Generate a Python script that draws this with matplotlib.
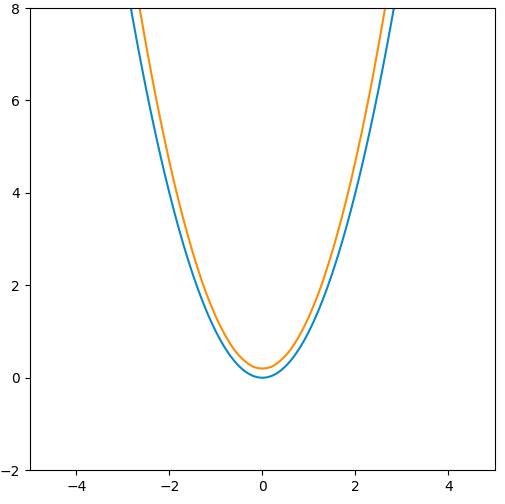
import matplotlib
matplotlib.use("Agg")
import matplotlib.pyplot as plt

# values
x_vals = [-3.0, -2.9, -2.8, -2.7, -2.6, -2.5, -2.4, -2.3, -2.2, -2.1, -2.0, -1.9, -1.8, -1.7, -1.6, -1.5,
          -1.4, -1.3, -1.2, -1.1, -1.0, -0.9, -0.8, -0.7, -0.6, -0.5, -0.4, -0.3, -0.2, -0.1, 0.0,
          0.1, 0.2, 0.3, 0.4, 0.5, 0.6, 0.7, 0.8, 0.9, 1.0, 1.1, 1.2, 1.3, 1.4, 1.5,
          1.6, 1.7, 1.8, 1.9, 2.0, 2.1, 2.2, 2.3, 2.4, 2.5, 2.6, 2.7, 2.8, 2.9, 3.0]
blue_vals = [9.00, 8.41, 7.84, 7.29, 6.76, 6.25, 5.76, 5.29, 4.84, 4.41, 4.00, 3.61, 3.24, 2.89, 2.56, 2.25,
             1.96, 1.69, 1.44, 1.21, 1.00, 0.81, 0.64, 0.49, 0.36, 0.25, 0.16, 0.09, 0.04, 0.01, 0.00,
             0.01, 0.04, 0.09, 0.16, 0.25, 0.36, 0.49, 0.64, 0.81, 1.00, 1.21, 1.44, 1.69, 1.96, 2.25,
             2.56, 2.89, 3.24, 3.61, 4.00, 4.41, 4.84, 5.29, 5.76, 6.25, 6.76, 7.29, 7.84, 8.41, 9.00]
orange_vals = [10.28, 9.62, 8.98, 8.36, 7.77, 7.20, 6.65, 6.12, 5.62, 5.14, 4.68, 4.24, 3.83, 3.44, 3.07, 2.72,
               2.40, 2.09, 1.81, 1.56, 1.32, 1.11, 0.92, 0.75, 0.60, 0.48, 0.38, 0.30, 0.24, 0.21, 0.20,
               0.21, 0.24, 0.30, 0.38, 0.48, 0.60, 0.75, 0.92, 1.11, 1.32, 1.56, 1.81, 2.09, 2.40, 2.72,
               3.07, 3.44, 3.83, 4.24, 4.68, 5.14, 5.62, 6.12, 6.65, 7.20, 7.77, 8.36, 8.98, 9.62, 10.28]

x_ticks = [-4, -2, 0, 2, 4]
y_ticks = [-2, 0, 2, 4, 6, 8]

fig = plt.figure(figsize=(5.06, 5.04), dpi=100)
ax = fig.add_axes([0.059, 0.067, 0.919, 0.917])

ax.plot(x_vals, blue_vals, color="#0a88cc", linewidth=1.5)
ax.plot(x_vals, orange_vals, color="#ff8c00", linewidth=1.5)

ax.set_xlim(-5, 5)
ax.set_ylim(-2, 8)
ax.set_xticks(x_ticks)
ax.set_yticks(y_ticks)

fig.savefig("out.png", dpi=100)
